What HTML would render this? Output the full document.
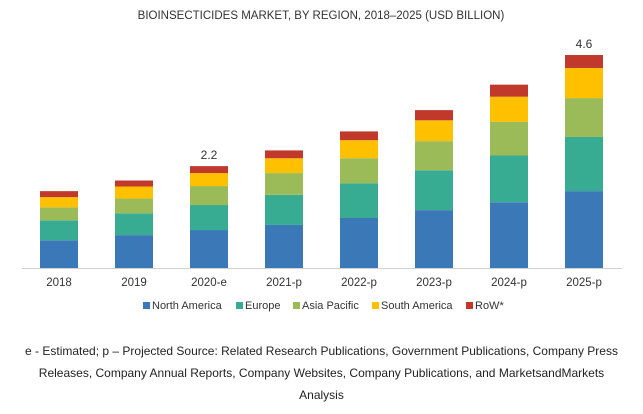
<!DOCTYPE html>
<html><head><meta charset="utf-8"><style>
body{margin:0;background:#fff;font-family:"Liberation Sans",sans-serif;}
#wrap{position:relative;width:643px;height:414px;overflow:hidden;}
.note{position:absolute;left:0;width:643px;top:340px;text-align:center;font-size:12px;line-height:22px;color:#222;}
</style></head><body>
<div id="wrap">
<svg id="chart" width="643" height="330"></svg>
<div class="note">e - Estimated; p – Projected Source: Related Research Publications, Government Publications, Company Press<br>Releases, Company Annual Reports, Company Websites, Company Publications, and MarketsandMarkets<br>Analysis</div>
</div>
<script>
const categories=["2018","2019","2020-e","2021-p","2022-p","2023-p","2024-p","2025-p"];
const seriesNames=["North America","Europe","Asia Pacific","South America","RoW*"];
const northAmerica=[0.60,0.71,0.82,0.93,1.08,1.25,1.42,1.66];
const europe=[0.43,0.47,0.54,0.65,0.75,0.86,1.01,1.17];
const asiaPacific=[0.28,0.32,0.41,0.47,0.54,0.63,0.73,0.84];
const southAmerica=[0.22,0.26,0.28,0.32,0.39,0.45,0.54,0.65];
const row=[0.13,0.13,0.15,0.17,0.19,0.22,0.26,0.28];
const totalLabels=["","","2.2","","","","","4.6"];
const colors=["#3a78b8","#38ab93","#9bbb59","#ffc000","#c0392b"];
const NS="http://www.w3.org/2000/svg";
const svg=document.getElementById('chart');
const base=268,pxPer=46.3,x0=59,step=75,bw=38;
const yS=v=>base-v*pxPer;
const xS=i=>x0+i*step;
function mk(t,a){const e=document.createElementNS(NS,t);for(const k in a)e.setAttribute(k,a[k]);svg.appendChild(e);return e;}
let t=mk('text',{x:321,y:19,'text-anchor':'middle','font-size':11.5,fill:'#333'});


t.textContent="BIOINSECTICIDES MARKET, BY REGION, 2018–2025 (USD BILLION)";
const series=[northAmerica,europe,asiaPacific,southAmerica,row];
categories.forEach((c,i)=>{
  let cum=0;
  series.forEach((s,j)=>{
    const r=mk('rect',{x:xS(i)-bw/2,y:yS(cum+s[i]),width:bw,height:s[i]*pxPer,fill:colors[j]});
    
    
    cum+=s[i];
  });
  if(totalLabels[i]){
    const l=mk('text',{x:xS(i),y:yS(cum)-7,'text-anchor':'middle','font-size':12,fill:'#333'});
    
    
    l.textContent=totalLabels[i];
  }
  const xl=mk('text',{x:xS(i),y:286,'text-anchor':'middle','font-size':11.5,fill:'#333'});
  
  
  xl.textContent=c;
});
const ax=mk('line',{x1:22,x2:622,y1:base+0.5,y2:base+0.5,stroke:'#d0d0d0','stroke-width':1});


const legX=[143,236,293,372,466];
seriesNames.forEach((n,j)=>{
  const g=mk('g',{});
  
  
  const r=document.createElementNS(NS,'rect');
  r.setAttribute('x',legX[j]);r.setAttribute('y',302);r.setAttribute('width',7);r.setAttribute('height',7);r.setAttribute('fill',colors[j]);
  g.appendChild(r);
  const tx=document.createElementNS(NS,'text');
  tx.setAttribute('x',legX[j]+9);tx.setAttribute('y',309);tx.setAttribute('font-size',11);tx.setAttribute('fill','#333');
  tx.textContent=n;g.appendChild(tx);
});
</script>
</body></html>
